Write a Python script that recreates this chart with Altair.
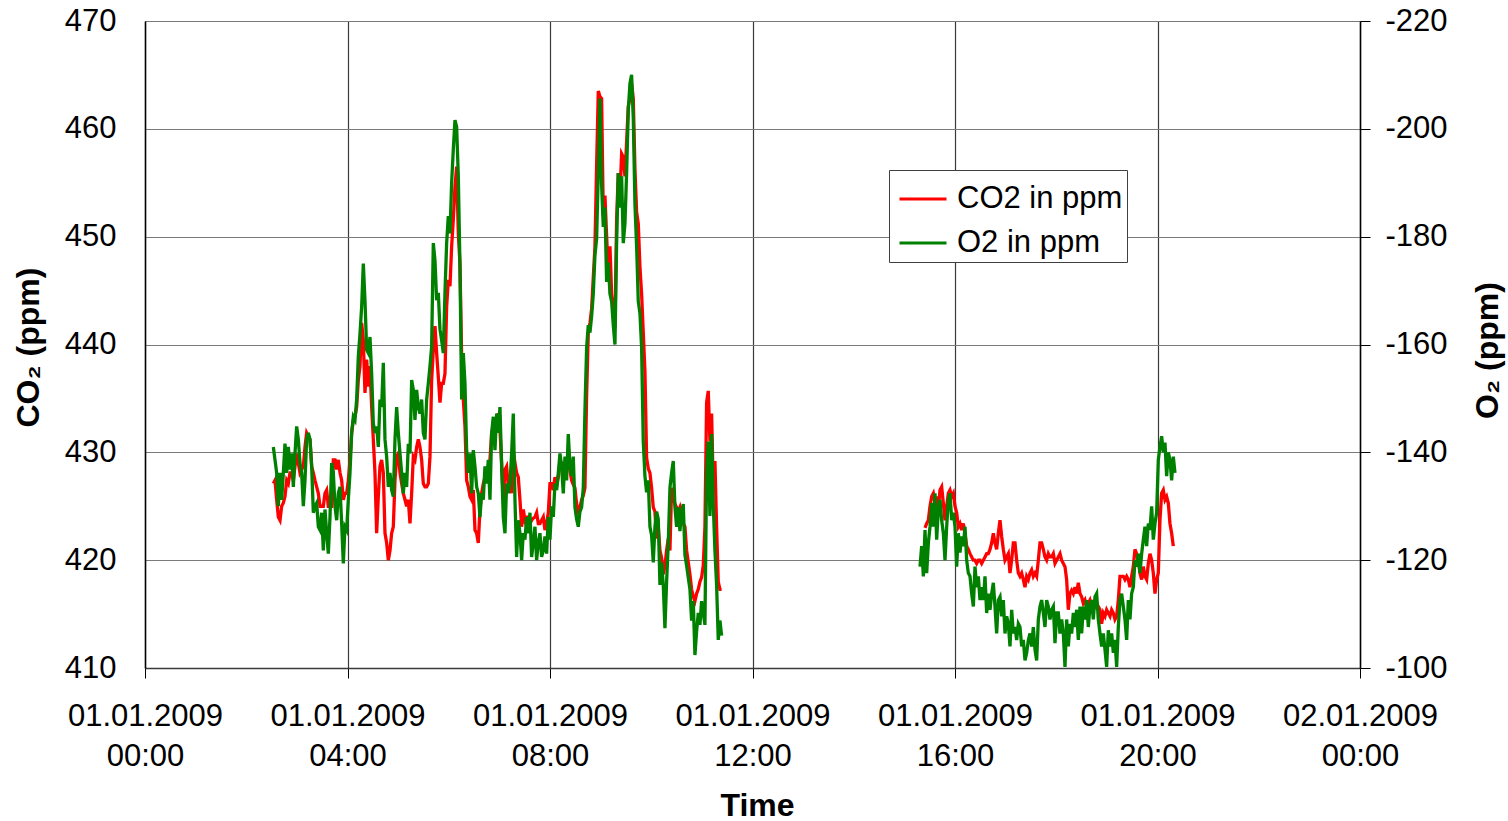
import altair as alt
import pandas as pd

# Sampling interval of the gas analyser log
STEP = pd.Timedelta(seconds=118.5)

# Morning run, CO2 in ppm
co2_morning = [
    427.1, 427.4, 425.6, 424.0, 423.7, 425.0, 425.3, 425.9, 427.4, 427.1,
    428.1, 428.1, 427.4, 428.7, 429.9, 429.0, 428.1, 428.4, 428.7, 430.5,
    431.8, 431.5, 431.2, 428.7, 428.1, 427.4, 426.8, 426.2, 425.0, 425.0,
    425.0, 426.2, 426.5, 425.0, 425.0, 425.0, 429.3, 429.3, 428.4, 429.3,
    428.1, 427.4, 425.6, 426.2, 426.2, 427.4, 429.3, 431.8, 433.0, 433.3,
    434.2, 436.7, 438.0, 442.0, 440.4, 435.5, 438.6, 436.1, 438.0, 434.2,
    431.2, 428.1, 422.5, 425.9, 428.7, 429.3, 428.1, 422.5, 421.6, 420.0,
    420.9, 422.5, 423.1, 427.4, 429.6, 429.9, 428.1, 427.1, 426.2, 425.6,
    425.0, 425.6, 423.4, 426.2, 429.6, 429.3, 430.5, 431.2, 430.5,
    429.3, 427.1, 426.8, 426.8, 427.1, 429.6, 436.7, 439.5, 441.7, 439.2,
    437.0, 434.6, 436.4, 436.4, 437.3, 443.5, 446.0, 445.4, 449.1, 451.6,
    454.6, 456.5, 450.3, 447.5, 438.9, 434.9, 432.4, 427.4, 426.8, 425.9,
    425.6, 426.5, 422.8, 422.5, 421.6, 424.7, 426.2, 427.1, 427.7, 428.1,
    428.7, 429.3, 431.8, 432.4, 432.4, 433.0, 433.6, 432.1, 429.0, 425.6,
    428.4, 428.7, 426.8, 427.4, 426.2, 430.2, 429.0, 428.1, 427.7, 425.6,
    423.1, 424.7, 423.7, 424.0, 424.0, 423.4, 423.7, 423.9, 424.0, 424.4,
    423.4, 423.4, 423.7, 424.0, 422.8, 423.4, 424.4, 427.1, 427.1, 426.5,
    427.7, 426.8, 427.7, 429.0, 429.0, 428.4,
    428.8, 428.5, 429.2, 428.3, 427.4, 427.0, 426.7, 425.2, 424.5, 424.9,
    425.6, 426.0, 426.7, 435.3, 441.1, 442.0, 443.3, 446.2, 449.1, 456.6,
    463.5, 463.0, 462.8, 451.9, 453.8, 450.1, 446.5, 449.1, 444.7, 443.3,
    441.5, 451.6, 455.9, 453.8, 457.7, 457.4, 455.6, 458.8, 462.1, 462.8,
    464.2, 462.8, 456.3, 452.3, 451.2, 447.2, 444.7, 441.1, 437.5, 429.5,
    428.5, 428.1, 426.7, 424.9, 424.5, 422.0, 423.1, 420.9, 420.2, 418.7,
    419.5, 420.9, 422.0, 420.9, 426.7, 426.0, 425.2, 424.9, 424.5, 424.9,
    424.1, 423.4, 423.1, 420.9, 419.8, 418.7, 417.3, 416.6, 416.2, 416.9,
    417.3, 418.0, 418.4, 419.5, 423.1, 434.6, 435.7, 431.0, 433.6, 426.7,
    429.2, 423.1, 418.0, 417.3, 417.3,
]

# Morning run, O2 in ppm
o2_morning = [
    -141.0, -138.6, -136.2, -130.0, -136.2, -131.2, -136.2, -141.6, -136.2, -141.0,
    -136.8, -139.8, -133.6, -139.8, -144.8, -142.4, -138.0, -136.2, -130.0, -134.8,
    -142.4, -143.6, -142.4, -137.4, -128.8, -130.0, -130.6, -126.2, -125.6, -128.8,
    -121.8, -129.4, -125.0, -121.2, -128.0, -138.0, -136.2, -130.0, -127.4, -132.4,
    -133.6, -126.8, -119.4, -126.2, -125.6, -131.2, -136.2, -143.6, -146.6, -146.0,
    -149.8, -157.8, -162.0, -167.0, -175.0, -168.2, -159.0, -158.4, -161.4, -154.6,
    -145.4, -143.6, -144.8, -141.0, -149.8, -148.4, -156.6, -142.4, -139.2, -133.6,
    -136.2, -133.0, -131.8, -142.4, -148.4, -143.6, -139.8, -136.2, -132.4, -136.2,
    -133.6, -141.6, -139.8, -153.4, -151.6, -146.0, -151.6, -148.4, -147.2,
    -149.8, -143.6, -142.4, -149.8, -152.8, -156.0, -159.6, -178.8, -175.6, -168.2,
    -169.6, -162.8, -160.8, -158.4, -169.6, -178.8, -183.8, -180.6, -190.0, -196.2,
    -201.6, -200.4, -191.2, -174.4, -149.8, -158.4, -152.8, -140.4, -136.2, -139.8,
    -132.4, -140.4, -137.4, -133.6, -132.4, -128.0, -132.4, -131.2, -137.4, -134.2,
    -138.6, -131.2, -143.6, -146.6, -140.4, -147.2, -143.6, -148.4, -137.4, -128.0,
    -125.0, -134.2, -132.4, -134.2, -139.8, -147.2, -131.2, -120.6, -127.4, -125.0,
    -120.0, -125.0, -123.8, -128.0, -125.0, -128.8, -120.6, -123.2, -126.2, -120.0,
    -123.2, -125.0, -120.6, -121.8, -124.4, -121.2, -128.0, -123.8, -130.0, -128.0,
    -134.2, -133.0, -136.2, -139.8, -137.4, -132.4,
    -139.2, -134.8, -143.4, -137.6, -135.6, -139.2, -129.8, -127.6, -126.2, -129.0,
    -129.8, -133.4, -147.8, -159.4, -163.6, -162.2, -165.2, -169.4, -176.6, -179.6,
    -191.8, -205.6, -189.6, -181.8, -185.4, -171.6, -175.2, -169.4, -168.0, -163.6,
    -160.0, -178.8, -191.8, -185.4, -191.2, -178.8, -182.4, -191.8, -203.4, -208.4,
    -210.0, -202.0, -186.0, -178.2, -168.0, -165.8, -159.4, -142.0, -135.6, -132.6,
    -134.8, -126.2, -124.6, -119.6, -126.2, -129.0, -127.6, -115.4, -119.6, -115.4,
    -107.4, -116.0, -123.2, -133.4, -136.2, -138.4, -129.8, -126.2, -129.8, -125.4,
    -129.0, -130.4, -121.0, -119.0, -116.8, -114.6, -108.8, -112.4, -102.4, -106.8,
    -110.2, -108.0, -112.4, -110.2, -108.0, -136.2, -142.0, -128.2, -143.4, -130.4,
    -121.8, -115.4, -105.2, -108.8, -106.0,
]

# Evening run, CO2 in ppm
co2_evening = [
    423.0, 423.4, 423.7, 425.0, 425.9, 426.2, 425.3, 425.9, 424.7, 426.5,
    426.8, 425.3, 423.7, 425.0, 426.2, 426.5, 425.9, 426.2, 425.0, 424.4,
    423.1, 423.4, 422.8, 423.4, 422.5, 421.3, 421.0, 420.6, 420.3, 420.0,
    420.0, 419.7, 420.0, 420.0, 419.7, 420.0, 420.3, 420.6, 420.6, 421.0,
    421.6, 422.5, 421.6, 421.0, 422.5, 423.7, 422.2, 421.0, 420.0, 420.3,
    420.6, 418.8, 420.0, 421.6, 421.6, 420.0, 418.8, 418.5, 418.8, 418.2,
    417.5, 418.5, 418.2, 418.8, 419.1, 418.5, 418.8, 418.5, 420.0, 421.6,
    421.6, 421.0, 420.3, 420.0, 420.6, 420.3,
    420.3, 420.6, 419.7, 420.0, 420.3, 420.6, 420.0, 419.7, 419.4, 418.2,
    415.4, 416.9, 417.2, 416.9, 417.5, 416.9, 417.9, 416.9, 416.6, 416.0,
    416.3, 415.7, 416.0, 416.3, 415.7, 416.3, 415.7, 416.0, 415.7, 415.4,
    414.1, 415.1, 414.8, 415.4, 415.1, 414.8, 415.4, 415.1, 414.5, 414.8,
    416.3, 418.5, 418.5, 418.5, 418.2, 418.5, 418.2, 417.5, 418.5, 419.4,
    421.0, 420.6, 420.0, 418.8, 418.2, 419.4, 418.5, 418.2, 419.7, 420.6,
    420.0, 418.8, 416.9, 418.2, 418.8, 423.7, 426.2, 426.5, 425.6, 425.9,
    425.3, 423.4, 422.5, 421.3,
]

# Evening run, O2 in ppm
o2_evening = [
    -118.8, -122.6, -117.0, -125.6, -117.6, -123.2, -126.2, -130.6, -126.2, -132.4,
    -123.8, -129.4, -131.2, -127.4, -125.0, -120.0, -126.2, -131.2, -132.4, -127.4,
    -128.8, -126.2, -118.8, -125.0, -121.4, -124.4, -122.6, -126.2, -120.0, -117.6,
    -117.0, -113.8, -111.4, -118.8, -115.0, -117.0, -112.6, -115.0, -112.6, -117.0,
    -110.2, -113.8, -110.8, -113.8, -115.8, -111.4, -106.4, -112.6, -113.2, -109.6,
    -112.6, -106.4, -109.6, -108.2, -104.0, -110.8, -106.4, -107.6, -105.2, -108.2,
    -107.6, -104.0, -105.2, -101.4, -102.8, -105.2, -106.4, -104.0, -107.6, -103.4,
    -101.4, -109.0, -111.4, -112.6, -110.2, -107.6, -112.6, -111.4, -109.0,
    -110.8, -111.4, -104.6, -110.2, -110.2, -106.4, -109.0, -106.4, -100.2, -109.0,
    -104.0, -108.2, -106.4, -110.2, -107.6, -110.8, -105.2, -111.4, -106.4, -111.4,
    -109.0, -112.6, -107.6, -111.4, -112.6, -109.0, -113.2, -113.8, -109.0, -106.4,
    -104.0, -106.4, -103.4, -100.2, -107.0, -104.0, -106.4, -102.8, -105.2, -100.2,
    -107.6, -112.6, -113.8, -111.4, -109.0, -105.2, -112.6, -109.0, -113.8, -115.0,
    -120.0, -118.8, -121.2, -117.6, -121.2, -123.8, -126.2, -122.6, -126.8, -125.6,
    -130.0, -123.8, -126.8, -128.8, -138.6, -141.0, -143.0, -140.0, -141.8, -135.6,
    -140.0, -138.6, -134.8, -139.2, -136.2,
]

# First timestamp of every run
co2_starts = ["2009-01-01 02:32:06", "2009-01-01 15:24:27"]
o2_starts = ["2009-01-01 02:32:06", "2009-01-01 15:18:32"]

SERIES = ["CO2 in ppm", "O2 in ppm"]
COLORS = ["#FF0000", "#008000"]
FONT = "Liberation Sans"

co2_ticks = [410, 420, 430, 440, 450, 460, 470]
o2_ticks = [-220, -200, -180, -160, -140, -120, -100]
time_ticks = [alt.DateTime(year=2009, month=1, date=1, hours=h) for h in (0, 4, 8, 12, 16, 20)]
time_ticks.append(alt.DateTime(year=2009, month=1, date=2, hours=0))


def run_frame(starts, runs, name):
    parts = []
    for i, (start, values) in enumerate(zip(starts, runs)):
        times = pd.date_range(start, periods=len(values), freq=STEP)
        parts.append(pd.DataFrame({"time": times, "value": values,
                                   "series": name, "run": i}))
    return pd.concat(parts, ignore_index=True)


co2_df = run_frame(co2_starts, [co2_morning, co2_evening], SERIES[0])
o2_df = run_frame(o2_starts, [o2_morning, o2_evening], SERIES[1])

x_scale = alt.Scale(domain=[time_ticks[0], time_ticks[-1]])
x_axis = alt.Axis(
    title="Time", values=time_ticks,
    labelExpr="[timeFormat(datum.value, '%d.%m.%Y'), timeFormat(datum.value, '%H:%M')]",
    labelLineHeight=40, labelBaseline="top", labelAlign="center",
    labelFlush=False, labelOverlap=False, labelPadding=23,
    tickSize=10, tickColor="black", grid=True, gridColor="#3a3a3a",
    gridWidth=1.2, domainColor="#3a3a3a", domainWidth=1.5,
    titleX=612, titleY=137, titleBaseline="middle", titleAlign="center",
)

color = alt.Color(
    "series:N",
    scale=alt.Scale(domain=SERIES, range=COLORS),
    legend=alt.Legend(
        title=None, orient="none", legendX=744, legendY=149,
        direction="vertical", symbolType="stroke", symbolSize=2209,
        symbolStrokeWidth=3, symbolOffset=5, labelFont=FONT, labelFontSize=31,
        labelColor="black", labelOffset=9, labelLimit=400, rowPadding=4,
        padding=4, strokeColor="#404040", fillColor="white",
    ),
)

co2_line = alt.Chart(co2_df).mark_line(strokeWidth=3.3).encode(
    x=alt.X("time:T", scale=x_scale, axis=x_axis),
    y=alt.Y("value:Q", scale=alt.Scale(domain=[410, 470], nice=False, zero=False),
            axis=alt.Axis(
                title="CO₂ (ppm)", values=co2_ticks, labelExpr="'' + datum.value",
                orient="left", ticks=False, labelPadding=29, grid=True,
                gridColor="#7a7a7a", gridWidth=1.2, domainColor="black",
                domainWidth=1.5, titleAngle=270, titleX=-117, titleY=326,
                titleAlign="center", titleBaseline="middle",
            )),
    color=color,
    detail="run:N",
)

o2_line = alt.Chart(o2_df).mark_line(strokeWidth=3.3).encode(
    x=alt.X("time:T", scale=x_scale, axis=x_axis),
    y=alt.Y("value:Q", scale=alt.Scale(domain=[-220, -100], reverse=True, nice=False, zero=False),
            axis=alt.Axis(
                title="O₂ (ppm)", values=o2_ticks, labelExpr="'' + datum.value",
                orient="right", tickSize=10, tickColor="black", labelPadding=15,
                grid=False, domainColor="black", domainWidth=1.5,
                titleAngle=270, titleX=127, titleY=329,
                titleAlign="center", titleBaseline="middle",
            )),
    color=color,
    detail="run:N",
)

chart = alt.layer(co2_line, o2_line).resolve_scale(y="independent").properties(
    width=1215, height=647,
    autosize=alt.AutoSizeParams(type="none"),
    padding={"left": 145, "top": 21, "right": 148, "bottom": 153},
    background="white",
).configure_view(stroke=None).configure_axis(
    labelFont=FONT, labelFontSize=31, labelColor="black",
    titleFont=FONT, titleFontSize=32, titleFontWeight="bold", titleColor="black",
)

chart.save("out.html", embed_options={"renderer": "svg", "actions": False})
